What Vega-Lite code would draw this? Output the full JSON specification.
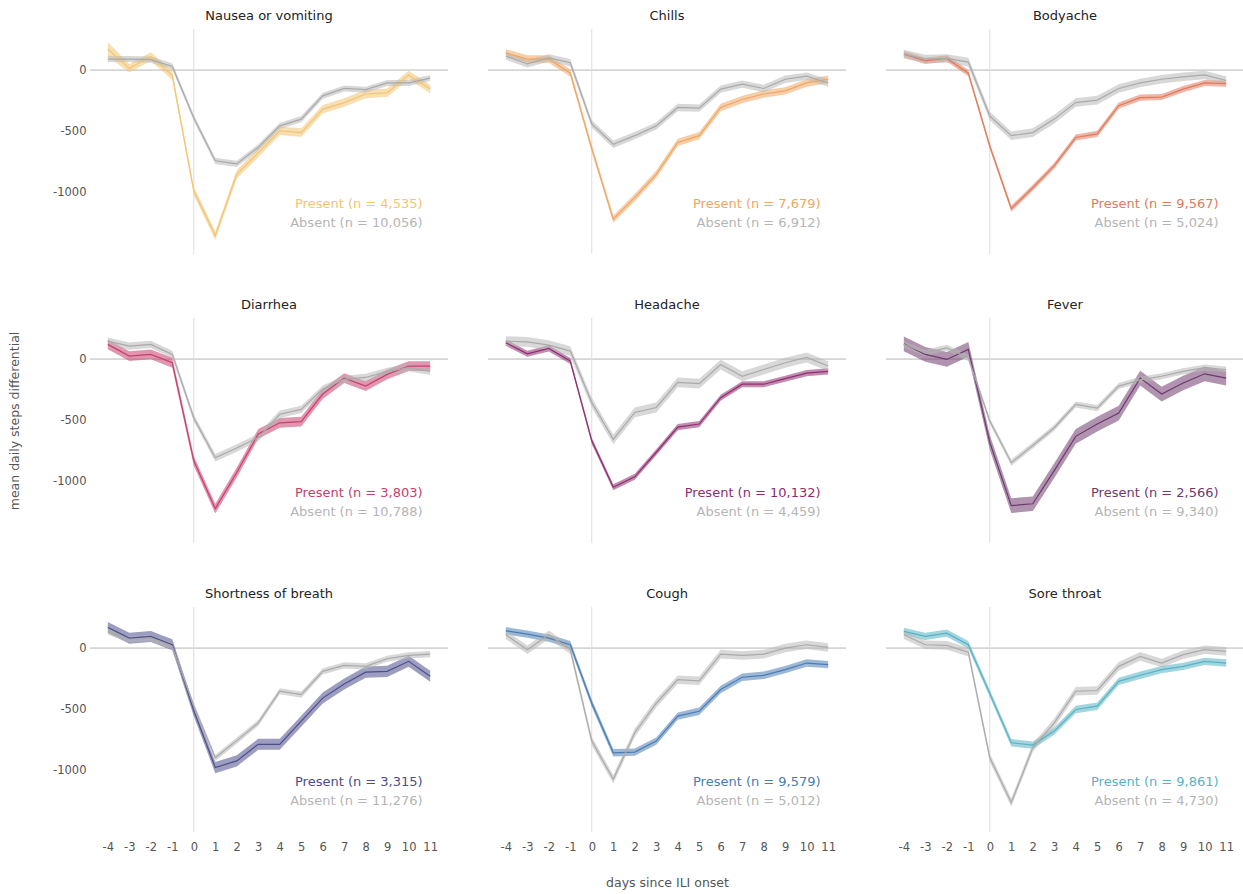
{
"$schema":"https://vega.github.io/schema/vega-lite/v6.json",
"background":"white",
"padding":{"left":8,"top":9,"right":5,"bottom":5},
"title":{"text":"days since ILI onset","orient":"bottom","anchor":"middle","fontSize":12.5,"fontWeight":"normal","color":"#555","offset":24,"dx":41},
"config":{"font":"DejaVu Sans","view":{"stroke":null},"axis":{"grid":false,"domain":false,"ticks":false,"labelColor":"#555","labelFontSize":11.5,"titleColor":"#555","titleFontSize":12.5,"titleFontWeight":"normal"}},
"data":{"values":[
{"s":"Nausea or vomiting","g":"P","t":"Present (n = 4,535)"},{"s":"Nausea or vomiting","g":"A","t":"Absent (n = 10,056)"},
{"s":"Chills","g":"P","t":"Present (n = 7,679)"},{"s":"Chills","g":"A","t":"Absent (n = 6,912)"},
{"s":"Bodyache","g":"P","t":"Present (n = 9,567)"},{"s":"Bodyache","g":"A","t":"Absent (n = 5,024)"},
{"s":"Diarrhea","g":"P","t":"Present (n = 3,803)"},{"s":"Diarrhea","g":"A","t":"Absent (n = 10,788)"},
{"s":"Headache","g":"P","t":"Present (n = 10,132)"},{"s":"Headache","g":"A","t":"Absent (n = 4,459)"},
{"s":"Fever","g":"P","t":"Present (n = 2,566)"},{"s":"Fever","g":"A","t":"Absent (n = 9,340)"},
{"s":"Shortness of breath","g":"P","t":"Present (n = 3,315)"},{"s":"Shortness of breath","g":"A","t":"Absent (n = 11,276)"},
{"s":"Cough","g":"P","t":"Present (n = 9,579)"},{"s":"Cough","g":"A","t":"Absent (n = 5,012)"},
{"s":"Sore throat","g":"P","t":"Present (n = 9,861)"},{"s":"Sore throat","g":"A","t":"Absent (n = 4,730)"},

{"s":"Nausea or vomiting","g":"P","d":-4,"m":170,"lo":110,"hi":230},
{"s":"Nausea or vomiting","g":"P","d":-3,"m":15,"lo":-20,"hi":50},
{"s":"Nausea or vomiting","g":"P","d":-2,"m":110,"lo":75,"hi":145},
{"s":"Nausea or vomiting","g":"P","d":-1,"m":-45,"lo":-80,"hi":-10},
{"s":"Nausea or vomiting","g":"P","d":0,"m":-985,"lo":-1020,"hi":-950},
{"s":"Nausea or vomiting","g":"P","d":1,"m":-1350,"lo":-1385,"hi":-1315},
{"s":"Nausea or vomiting","g":"P","d":2,"m":-850,"lo":-885,"hi":-815},
{"s":"Nausea or vomiting","g":"P","d":3,"m":-675,"lo":-710,"hi":-640},
{"s":"Nausea or vomiting","g":"P","d":4,"m":-495,"lo":-530,"hi":-460},
{"s":"Nausea or vomiting","g":"P","d":5,"m":-510,"lo":-545,"hi":-475},
{"s":"Nausea or vomiting","g":"P","d":6,"m":-320,"lo":-355,"hi":-285},
{"s":"Nausea or vomiting","g":"P","d":7,"m":-265,"lo":-300,"hi":-230},
{"s":"Nausea or vomiting","g":"P","d":8,"m":-195,"lo":-230,"hi":-160},
{"s":"Nausea or vomiting","g":"P","d":9,"m":-185,"lo":-220,"hi":-150},
{"s":"Nausea or vomiting","g":"P","d":10,"m":-40,"lo":-75,"hi":-5},
{"s":"Nausea or vomiting","g":"P","d":11,"m":-155,"lo":-190,"hi":-120},
{"s":"Nausea or vomiting","g":"A","d":-4,"m":90,"lo":65,"hi":115},
{"s":"Nausea or vomiting","g":"A","d":-3,"m":90,"lo":65,"hi":115},
{"s":"Nausea or vomiting","g":"A","d":-2,"m":85,"lo":60,"hi":110},
{"s":"Nausea or vomiting","g":"A","d":-1,"m":30,"lo":5,"hi":55},
{"s":"Nausea or vomiting","g":"A","d":0,"m":-390,"lo":-415,"hi":-365},
{"s":"Nausea or vomiting","g":"A","d":1,"m":-740,"lo":-765,"hi":-715},
{"s":"Nausea or vomiting","g":"A","d":2,"m":-765,"lo":-790,"hi":-740},
{"s":"Nausea or vomiting","g":"A","d":3,"m":-630,"lo":-655,"hi":-605},
{"s":"Nausea or vomiting","g":"A","d":4,"m":-455,"lo":-480,"hi":-430},
{"s":"Nausea or vomiting","g":"A","d":5,"m":-400,"lo":-425,"hi":-375},
{"s":"Nausea or vomiting","g":"A","d":6,"m":-210,"lo":-235,"hi":-185},
{"s":"Nausea or vomiting","g":"A","d":7,"m":-150,"lo":-175,"hi":-125},
{"s":"Nausea or vomiting","g":"A","d":8,"m":-160,"lo":-185,"hi":-135},
{"s":"Nausea or vomiting","g":"A","d":9,"m":-105,"lo":-130,"hi":-80},
{"s":"Nausea or vomiting","g":"A","d":10,"m":-105,"lo":-130,"hi":-80},
{"s":"Nausea or vomiting","g":"A","d":11,"m":-65,"lo":-90,"hi":-40},

{"s":"Chills","g":"P","d":-4,"m":140,"lo":110,"hi":170},
{"s":"Chills","g":"P","d":-3,"m":90,"lo":60,"hi":120},
{"s":"Chills","g":"P","d":-2,"m":90,"lo":60,"hi":120},
{"s":"Chills","g":"P","d":-1,"m":-25,"lo":-55,"hi":5},
{"s":"Chills","g":"P","d":0,"m":-640,"lo":-670,"hi":-610},
{"s":"Chills","g":"P","d":1,"m":-1215,"lo":-1245,"hi":-1185},
{"s":"Chills","g":"P","d":2,"m":-1040,"lo":-1070,"hi":-1010},
{"s":"Chills","g":"P","d":3,"m":-850,"lo":-880,"hi":-820},
{"s":"Chills","g":"P","d":4,"m":-590,"lo":-620,"hi":-560},
{"s":"Chills","g":"P","d":5,"m":-535,"lo":-565,"hi":-505},
{"s":"Chills","g":"P","d":6,"m":-305,"lo":-335,"hi":-275},
{"s":"Chills","g":"P","d":7,"m":-240,"lo":-270,"hi":-210},
{"s":"Chills","g":"P","d":8,"m":-195,"lo":-225,"hi":-165},
{"s":"Chills","g":"P","d":9,"m":-170,"lo":-200,"hi":-140},
{"s":"Chills","g":"P","d":10,"m":-105,"lo":-135,"hi":-75},
{"s":"Chills","g":"P","d":11,"m":-75,"lo":-105,"hi":-45},
{"s":"Chills","g":"A","d":-4,"m":115,"lo":85,"hi":145},
{"s":"Chills","g":"A","d":-3,"m":50,"lo":20,"hi":80},
{"s":"Chills","g":"A","d":-2,"m":100,"lo":70,"hi":130},
{"s":"Chills","g":"A","d":-1,"m":60,"lo":30,"hi":90},
{"s":"Chills","g":"A","d":0,"m":-440,"lo":-470,"hi":-410},
{"s":"Chills","g":"A","d":1,"m":-605,"lo":-635,"hi":-575},
{"s":"Chills","g":"A","d":2,"m":-535,"lo":-565,"hi":-505},
{"s":"Chills","g":"A","d":3,"m":-455,"lo":-485,"hi":-425},
{"s":"Chills","g":"A","d":4,"m":-305,"lo":-335,"hi":-275},
{"s":"Chills","g":"A","d":5,"m":-310,"lo":-340,"hi":-280},
{"s":"Chills","g":"A","d":6,"m":-155,"lo":-185,"hi":-125},
{"s":"Chills","g":"A","d":7,"m":-115,"lo":-145,"hi":-85},
{"s":"Chills","g":"A","d":8,"m":-150,"lo":-180,"hi":-120},
{"s":"Chills","g":"A","d":9,"m":-75,"lo":-105,"hi":-45},
{"s":"Chills","g":"A","d":10,"m":-50,"lo":-80,"hi":-20},
{"s":"Chills","g":"A","d":11,"m":-105,"lo":-135,"hi":-75},

{"s":"Bodyache","g":"P","d":-4,"m":130,"lo":105,"hi":155},
{"s":"Bodyache","g":"P","d":-3,"m":75,"lo":50,"hi":100},
{"s":"Bodyache","g":"P","d":-2,"m":95,"lo":70,"hi":120},
{"s":"Bodyache","g":"P","d":-1,"m":-25,"lo":-50,"hi":0},
{"s":"Bodyache","g":"P","d":0,"m":-620,"lo":-645,"hi":-595},
{"s":"Bodyache","g":"P","d":1,"m":-1130,"lo":-1155,"hi":-1105},
{"s":"Bodyache","g":"P","d":2,"m":-960,"lo":-985,"hi":-935},
{"s":"Bodyache","g":"P","d":3,"m":-780,"lo":-805,"hi":-755},
{"s":"Bodyache","g":"P","d":4,"m":-550,"lo":-575,"hi":-525},
{"s":"Bodyache","g":"P","d":5,"m":-520,"lo":-545,"hi":-495},
{"s":"Bodyache","g":"P","d":6,"m":-290,"lo":-315,"hi":-265},
{"s":"Bodyache","g":"P","d":7,"m":-225,"lo":-250,"hi":-200},
{"s":"Bodyache","g":"P","d":8,"m":-220,"lo":-245,"hi":-195},
{"s":"Bodyache","g":"P","d":9,"m":-155,"lo":-180,"hi":-130},
{"s":"Bodyache","g":"P","d":10,"m":-105,"lo":-130,"hi":-80},
{"s":"Bodyache","g":"P","d":11,"m":-110,"lo":-135,"hi":-85},
{"s":"Bodyache","g":"A","d":-4,"m":130,"lo":95,"hi":165},
{"s":"Bodyache","g":"A","d":-3,"m":90,"lo":55,"hi":125},
{"s":"Bodyache","g":"A","d":-2,"m":95,"lo":60,"hi":130},
{"s":"Bodyache","g":"A","d":-1,"m":65,"lo":30,"hi":100},
{"s":"Bodyache","g":"A","d":0,"m":-375,"lo":-410,"hi":-340},
{"s":"Bodyache","g":"A","d":1,"m":-535,"lo":-570,"hi":-500},
{"s":"Bodyache","g":"A","d":2,"m":-510,"lo":-545,"hi":-475},
{"s":"Bodyache","g":"A","d":3,"m":-400,"lo":-435,"hi":-365},
{"s":"Bodyache","g":"A","d":4,"m":-265,"lo":-300,"hi":-230},
{"s":"Bodyache","g":"A","d":5,"m":-245,"lo":-280,"hi":-210},
{"s":"Bodyache","g":"A","d":6,"m":-150,"lo":-185,"hi":-115},
{"s":"Bodyache","g":"A","d":7,"m":-105,"lo":-140,"hi":-70},
{"s":"Bodyache","g":"A","d":8,"m":-75,"lo":-110,"hi":-40},
{"s":"Bodyache","g":"A","d":9,"m":-55,"lo":-90,"hi":-20},
{"s":"Bodyache","g":"A","d":10,"m":-40,"lo":-75,"hi":-5},
{"s":"Bodyache","g":"A","d":11,"m":-85,"lo":-120,"hi":-50},

{"s":"Diarrhea","g":"P","d":-4,"m":120,"lo":80,"hi":160},
{"s":"Diarrhea","g":"P","d":-3,"m":24,"lo":-16,"hi":64},
{"s":"Diarrhea","g":"P","d":-2,"m":38,"lo":-2,"hi":78},
{"s":"Diarrhea","g":"P","d":-1,"m":-30,"lo":-70,"hi":10},
{"s":"Diarrhea","g":"P","d":0,"m":-830,"lo":-870,"hi":-790},
{"s":"Diarrhea","g":"P","d":1,"m":-1220,"lo":-1260,"hi":-1180},
{"s":"Diarrhea","g":"P","d":2,"m":-925,"lo":-965,"hi":-885},
{"s":"Diarrhea","g":"P","d":3,"m":-610,"lo":-650,"hi":-570},
{"s":"Diarrhea","g":"P","d":4,"m":-520,"lo":-560,"hi":-480},
{"s":"Diarrhea","g":"P","d":5,"m":-510,"lo":-550,"hi":-470},
{"s":"Diarrhea","g":"P","d":6,"m":-285,"lo":-325,"hi":-245},
{"s":"Diarrhea","g":"P","d":7,"m":-155,"lo":-195,"hi":-115},
{"s":"Diarrhea","g":"P","d":8,"m":-220,"lo":-260,"hi":-180},
{"s":"Diarrhea","g":"P","d":9,"m":-125,"lo":-165,"hi":-85},
{"s":"Diarrhea","g":"P","d":10,"m":-57,"lo":-97,"hi":-17},
{"s":"Diarrhea","g":"P","d":11,"m":-57,"lo":-97,"hi":-17},
{"s":"Diarrhea","g":"A","d":-4,"m":146,"lo":116,"hi":176},
{"s":"Diarrhea","g":"A","d":-3,"m":106,"lo":76,"hi":136},
{"s":"Diarrhea","g":"A","d":-2,"m":120,"lo":90,"hi":150},
{"s":"Diarrhea","g":"A","d":-1,"m":38,"lo":8,"hi":68},
{"s":"Diarrhea","g":"A","d":0,"m":-480,"lo":-510,"hi":-450},
{"s":"Diarrhea","g":"A","d":1,"m":-805,"lo":-835,"hi":-775},
{"s":"Diarrhea","g":"A","d":2,"m":-725,"lo":-755,"hi":-695},
{"s":"Diarrhea","g":"A","d":3,"m":-640,"lo":-670,"hi":-610},
{"s":"Diarrhea","g":"A","d":4,"m":-450,"lo":-480,"hi":-420},
{"s":"Diarrhea","g":"A","d":5,"m":-410,"lo":-440,"hi":-380},
{"s":"Diarrhea","g":"A","d":6,"m":-245,"lo":-275,"hi":-215},
{"s":"Diarrhea","g":"A","d":7,"m":-165,"lo":-195,"hi":-135},
{"s":"Diarrhea","g":"A","d":8,"m":-150,"lo":-180,"hi":-120},
{"s":"Diarrhea","g":"A","d":9,"m":-100,"lo":-130,"hi":-70},
{"s":"Diarrhea","g":"A","d":10,"m":-70,"lo":-100,"hi":-40},
{"s":"Diarrhea","g":"A","d":11,"m":-100,"lo":-130,"hi":-70},

{"s":"Headache","g":"P","d":-4,"m":133,"lo":108,"hi":158},
{"s":"Headache","g":"P","d":-3,"m":43,"lo":18,"hi":68},
{"s":"Headache","g":"P","d":-2,"m":87,"lo":62,"hi":112},
{"s":"Headache","g":"P","d":-1,"m":-16,"lo":-41,"hi":9},
{"s":"Headache","g":"P","d":0,"m":-667,"lo":-692,"hi":-642},
{"s":"Headache","g":"P","d":1,"m":-1045,"lo":-1070,"hi":-1020},
{"s":"Headache","g":"P","d":2,"m":-960,"lo":-985,"hi":-935},
{"s":"Headache","g":"P","d":3,"m":-760,"lo":-785,"hi":-735},
{"s":"Headache","g":"P","d":4,"m":-555,"lo":-580,"hi":-530},
{"s":"Headache","g":"P","d":5,"m":-530,"lo":-555,"hi":-505},
{"s":"Headache","g":"P","d":6,"m":-315,"lo":-340,"hi":-290},
{"s":"Headache","g":"P","d":7,"m":-205,"lo":-230,"hi":-180},
{"s":"Headache","g":"P","d":8,"m":-205,"lo":-230,"hi":-180},
{"s":"Headache","g":"P","d":9,"m":-160,"lo":-185,"hi":-135},
{"s":"Headache","g":"P","d":10,"m":-115,"lo":-140,"hi":-90},
{"s":"Headache","g":"P","d":11,"m":-100,"lo":-125,"hi":-75},
{"s":"Headache","g":"A","d":-4,"m":146,"lo":106,"hi":186},
{"s":"Headache","g":"A","d":-3,"m":140,"lo":100,"hi":180},
{"s":"Headache","g":"A","d":-2,"m":114,"lo":74,"hi":154},
{"s":"Headache","g":"A","d":-1,"m":65,"lo":25,"hi":105},
{"s":"Headache","g":"A","d":0,"m":-355,"lo":-395,"hi":-315},
{"s":"Headache","g":"A","d":1,"m":-655,"lo":-695,"hi":-615},
{"s":"Headache","g":"A","d":2,"m":-435,"lo":-475,"hi":-395},
{"s":"Headache","g":"A","d":3,"m":-395,"lo":-435,"hi":-355},
{"s":"Headache","g":"A","d":4,"m":-190,"lo":-230,"hi":-150},
{"s":"Headache","g":"A","d":5,"m":-200,"lo":-240,"hi":-160},
{"s":"Headache","g":"A","d":6,"m":-45,"lo":-85,"hi":-5},
{"s":"Headache","g":"A","d":7,"m":-140,"lo":-180,"hi":-100},
{"s":"Headache","g":"A","d":8,"m":-85,"lo":-125,"hi":-45},
{"s":"Headache","g":"A","d":9,"m":-30,"lo":-70,"hi":10},
{"s":"Headache","g":"A","d":10,"m":13,"lo":-27,"hi":53},
{"s":"Headache","g":"A","d":11,"m":-57,"lo":-97,"hi":-17},

{"s":"Fever","g":"P","d":-4,"m":124,"lo":64,"hi":184},
{"s":"Fever","g":"P","d":-3,"m":38,"lo":-22,"hi":98},
{"s":"Fever","g":"P","d":-2,"m":-3,"lo":-63,"hi":57},
{"s":"Fever","g":"P","d":-1,"m":79,"lo":19,"hi":139},
{"s":"Fever","g":"P","d":0,"m":-680,"lo":-740,"hi":-620},
{"s":"Fever","g":"P","d":1,"m":-1195,"lo":-1255,"hi":-1135},
{"s":"Fever","g":"P","d":2,"m":-1180,"lo":-1240,"hi":-1120},
{"s":"Fever","g":"P","d":3,"m":-910,"lo":-970,"hi":-850},
{"s":"Fever","g":"P","d":4,"m":-630,"lo":-690,"hi":-570},
{"s":"Fever","g":"P","d":5,"m":-530,"lo":-590,"hi":-470},
{"s":"Fever","g":"P","d":6,"m":-440,"lo":-500,"hi":-380},
{"s":"Fever","g":"P","d":7,"m":-155,"lo":-215,"hi":-95},
{"s":"Fever","g":"P","d":8,"m":-285,"lo":-345,"hi":-225},
{"s":"Fever","g":"P","d":9,"m":-195,"lo":-255,"hi":-135},
{"s":"Fever","g":"P","d":10,"m":-120,"lo":-180,"hi":-60},
{"s":"Fever","g":"P","d":11,"m":-155,"lo":-215,"hi":-95},
{"s":"Fever","g":"A","d":-4,"m":120,"lo":95,"hi":145},
{"s":"Fever","g":"A","d":-3,"m":50,"lo":25,"hi":75},
{"s":"Fever","g":"A","d":-2,"m":92,"lo":67,"hi":117},
{"s":"Fever","g":"A","d":-1,"m":10,"lo":-15,"hi":35},
{"s":"Fever","g":"A","d":0,"m":-505,"lo":-530,"hi":-480},
{"s":"Fever","g":"A","d":1,"m":-845,"lo":-870,"hi":-820},
{"s":"Fever","g":"A","d":2,"m":-705,"lo":-730,"hi":-680},
{"s":"Fever","g":"A","d":3,"m":-560,"lo":-585,"hi":-535},
{"s":"Fever","g":"A","d":4,"m":-370,"lo":-395,"hi":-345},
{"s":"Fever","g":"A","d":5,"m":-400,"lo":-425,"hi":-375},
{"s":"Fever","g":"A","d":6,"m":-220,"lo":-245,"hi":-195},
{"s":"Fever","g":"A","d":7,"m":-170,"lo":-195,"hi":-145},
{"s":"Fever","g":"A","d":8,"m":-140,"lo":-165,"hi":-115},
{"s":"Fever","g":"A","d":9,"m":-100,"lo":-125,"hi":-75},
{"s":"Fever","g":"A","d":10,"m":-70,"lo":-95,"hi":-45},
{"s":"Fever","g":"A","d":11,"m":-85,"lo":-110,"hi":-60},

{"s":"Shortness of breath","g":"P","d":-4,"m":168,"lo":123,"hi":213},
{"s":"Shortness of breath","g":"P","d":-3,"m":81,"lo":36,"hi":126},
{"s":"Shortness of breath","g":"P","d":-2,"m":95,"lo":50,"hi":140},
{"s":"Shortness of breath","g":"P","d":-1,"m":27,"lo":-18,"hi":72},
{"s":"Shortness of breath","g":"P","d":0,"m":-510,"lo":-555,"hi":-465},
{"s":"Shortness of breath","g":"P","d":1,"m":-975,"lo":-1020,"hi":-930},
{"s":"Shortness of breath","g":"P","d":2,"m":-920,"lo":-965,"hi":-875},
{"s":"Shortness of breath","g":"P","d":3,"m":-785,"lo":-830,"hi":-740},
{"s":"Shortness of breath","g":"P","d":4,"m":-785,"lo":-830,"hi":-740},
{"s":"Shortness of breath","g":"P","d":5,"m":-596,"lo":-641,"hi":-551},
{"s":"Shortness of breath","g":"P","d":6,"m":-408,"lo":-453,"hi":-363},
{"s":"Shortness of breath","g":"P","d":7,"m":-293,"lo":-338,"hi":-248},
{"s":"Shortness of breath","g":"P","d":8,"m":-196,"lo":-241,"hi":-151},
{"s":"Shortness of breath","g":"P","d":9,"m":-190,"lo":-235,"hi":-145},
{"s":"Shortness of breath","g":"P","d":10,"m":-108,"lo":-153,"hi":-63},
{"s":"Shortness of breath","g":"P","d":11,"m":-230,"lo":-275,"hi":-185},
{"s":"Shortness of breath","g":"A","d":-4,"m":136,"lo":111,"hi":161},
{"s":"Shortness of breath","g":"A","d":-3,"m":70,"lo":45,"hi":95},
{"s":"Shortness of breath","g":"A","d":-2,"m":81,"lo":56,"hi":106},
{"s":"Shortness of breath","g":"A","d":-1,"m":14,"lo":-11,"hi":39},
{"s":"Shortness of breath","g":"A","d":0,"m":-470,"lo":-495,"hi":-445},
{"s":"Shortness of breath","g":"A","d":1,"m":-895,"lo":-920,"hi":-870},
{"s":"Shortness of breath","g":"A","d":2,"m":-755,"lo":-780,"hi":-730},
{"s":"Shortness of breath","g":"A","d":3,"m":-610,"lo":-635,"hi":-585},
{"s":"Shortness of breath","g":"A","d":4,"m":-352,"lo":-377,"hi":-327},
{"s":"Shortness of breath","g":"A","d":5,"m":-380,"lo":-405,"hi":-355},
{"s":"Shortness of breath","g":"A","d":6,"m":-190,"lo":-215,"hi":-165},
{"s":"Shortness of breath","g":"A","d":7,"m":-141,"lo":-166,"hi":-116},
{"s":"Shortness of breath","g":"A","d":8,"m":-149,"lo":-174,"hi":-124},
{"s":"Shortness of breath","g":"A","d":9,"m":-87,"lo":-112,"hi":-62},
{"s":"Shortness of breath","g":"A","d":10,"m":-60,"lo":-85,"hi":-35},
{"s":"Shortness of breath","g":"A","d":11,"m":-49,"lo":-74,"hi":-24},

{"s":"Cough","g":"P","d":-4,"m":141,"lo":111,"hi":171},
{"s":"Cough","g":"P","d":-3,"m":114,"lo":84,"hi":144},
{"s":"Cough","g":"P","d":-2,"m":81,"lo":51,"hi":111},
{"s":"Cough","g":"P","d":-1,"m":27,"lo":-3,"hi":57},
{"s":"Cough","g":"P","d":0,"m":-450,"lo":-480,"hi":-420},
{"s":"Cough","g":"P","d":1,"m":-854,"lo":-884,"hi":-824},
{"s":"Cough","g":"P","d":2,"m":-848,"lo":-878,"hi":-818},
{"s":"Cough","g":"P","d":3,"m":-759,"lo":-789,"hi":-729},
{"s":"Cough","g":"P","d":4,"m":-555,"lo":-585,"hi":-525},
{"s":"Cough","g":"P","d":5,"m":-515,"lo":-545,"hi":-485},
{"s":"Cough","g":"P","d":6,"m":-338,"lo":-368,"hi":-308},
{"s":"Cough","g":"P","d":7,"m":-238,"lo":-268,"hi":-208},
{"s":"Cough","g":"P","d":8,"m":-222,"lo":-252,"hi":-192},
{"s":"Cough","g":"P","d":9,"m":-176,"lo":-206,"hi":-146},
{"s":"Cough","g":"P","d":10,"m":-122,"lo":-152,"hi":-92},
{"s":"Cough","g":"P","d":11,"m":-135,"lo":-165,"hi":-105},
{"s":"Cough","g":"A","d":-4,"m":109,"lo":74,"hi":144},
{"s":"Cough","g":"A","d":-3,"m":-13,"lo":-48,"hi":22},
{"s":"Cough","g":"A","d":-2,"m":109,"lo":74,"hi":144},
{"s":"Cough","g":"A","d":-1,"m":-13,"lo":-48,"hi":22},
{"s":"Cough","g":"A","d":0,"m":-759,"lo":-794,"hi":-724},
{"s":"Cough","g":"A","d":1,"m":-1070,"lo":-1105,"hi":-1035},
{"s":"Cough","g":"A","d":2,"m":-690,"lo":-725,"hi":-655},
{"s":"Cough","g":"A","d":3,"m":-450,"lo":-485,"hi":-415},
{"s":"Cough","g":"A","d":4,"m":-258,"lo":-293,"hi":-223},
{"s":"Cough","g":"A","d":5,"m":-267,"lo":-302,"hi":-232},
{"s":"Cough","g":"A","d":6,"m":-49,"lo":-84,"hi":-14},
{"s":"Cough","g":"A","d":7,"m":-60,"lo":-95,"hi":-25},
{"s":"Cough","g":"A","d":8,"m":-49,"lo":-84,"hi":-14},
{"s":"Cough","g":"A","d":9,"m":0,"lo":-35,"hi":35},
{"s":"Cough","g":"A","d":10,"m":27,"lo":-8,"hi":62},
{"s":"Cough","g":"A","d":11,"m":5,"lo":-30,"hi":40},

{"s":"Sore throat","g":"P","d":-4,"m":136,"lo":106,"hi":166},
{"s":"Sore throat","g":"P","d":-3,"m":95,"lo":65,"hi":125},
{"s":"Sore throat","g":"P","d":-2,"m":122,"lo":92,"hi":152},
{"s":"Sore throat","g":"P","d":-1,"m":27,"lo":-3,"hi":57},
{"s":"Sore throat","g":"P","d":0,"m":-370,"lo":-400,"hi":-340},
{"s":"Sore throat","g":"P","d":1,"m":-772,"lo":-802,"hi":-742},
{"s":"Sore throat","g":"P","d":2,"m":-791,"lo":-821,"hi":-761},
{"s":"Sore throat","g":"P","d":3,"m":-677,"lo":-707,"hi":-647},
{"s":"Sore throat","g":"P","d":4,"m":-501,"lo":-531,"hi":-471},
{"s":"Sore throat","g":"P","d":5,"m":-474,"lo":-504,"hi":-444},
{"s":"Sore throat","g":"P","d":6,"m":-271,"lo":-301,"hi":-241},
{"s":"Sore throat","g":"P","d":7,"m":-222,"lo":-252,"hi":-192},
{"s":"Sore throat","g":"P","d":8,"m":-176,"lo":-206,"hi":-146},
{"s":"Sore throat","g":"P","d":9,"m":-149,"lo":-179,"hi":-119},
{"s":"Sore throat","g":"P","d":10,"m":-108,"lo":-138,"hi":-78},
{"s":"Sore throat","g":"P","d":11,"m":-122,"lo":-152,"hi":-92},
{"s":"Sore throat","g":"A","d":-4,"m":109,"lo":74,"hi":144},
{"s":"Sore throat","g":"A","d":-3,"m":27,"lo":-8,"hi":62},
{"s":"Sore throat","g":"A","d":-2,"m":22,"lo":-13,"hi":57},
{"s":"Sore throat","g":"A","d":-1,"m":-33,"lo":-68,"hi":2},
{"s":"Sore throat","g":"A","d":0,"m":-894,"lo":-929,"hi":-859},
{"s":"Sore throat","g":"A","d":1,"m":-1260,"lo":-1295,"hi":-1225},
{"s":"Sore throat","g":"A","d":2,"m":-813,"lo":-848,"hi":-778},
{"s":"Sore throat","g":"A","d":3,"m":-610,"lo":-645,"hi":-575},
{"s":"Sore throat","g":"A","d":4,"m":-352,"lo":-387,"hi":-317},
{"s":"Sore throat","g":"A","d":5,"m":-346,"lo":-381,"hi":-311},
{"s":"Sore throat","g":"A","d":6,"m":-149,"lo":-184,"hi":-114},
{"s":"Sore throat","g":"A","d":7,"m":-68,"lo":-103,"hi":-33},
{"s":"Sore throat","g":"A","d":8,"m":-122,"lo":-157,"hi":-87},
{"s":"Sore throat","g":"A","d":9,"m":-54,"lo":-89,"hi":-19},
{"s":"Sore throat","g":"A","d":10,"m":-13,"lo":-48,"hi":22},
{"s":"Sore throat","g":"A","d":11,"m":-27,"lo":-62,"hi":8}
]},
"columns":3,
"spacing":{"column":38,"row":43},
"facet":{"field":"s","type":"nominal","sort":["Nausea or vomiting","Chills","Bodyache","Diarrhea","Headache","Fever","Shortness of breath","Cough","Sore throat"],
  "title":"mean daily steps differential",
  "header":{"titleOrient":"left","titleFontSize":12.5,"titleColor":"#555","titleFontWeight":"normal","titlePadding":31,"labelFontSize":13,"labelColor":"#222","labelPadding":6}},
"spec":{
  "width":358,"height":225,
  "encoding":{
    "x":{"type":"quantitative","scale":{"domain":[-4.83,11.83],"nice":false,"zero":false},"axis":{"values":[-4,-3,-2,-1,0,1,2,3,4,5,6,7,8,9,10,11],"title":null,"labelPadding":8,"labelExpr":"datum.value + ''"}},
    "y":{"type":"quantitative","scale":{"domain":[-1500,335],"nice":false},"axis":{"values":[0,-500,-1000],"title":null,"labelPadding":3,"labelExpr":"datum.value + ''"}}
  },
  "layer":[
    {"transform":[{"filter":"isValid(datum.t) && datum.g === 'P'"}],"mark":{"type":"rule","color":"#b5b5b5","strokeWidth":1},"encoding":{"y":{"datum":0}}},
    {"transform":[{"filter":"isValid(datum.t) && datum.g === 'P'"}],"mark":{"type":"rule","color":"#dddddd","strokeWidth":1},"encoding":{"x":{"datum":0}}},
    {"transform":[{"filter":"isValid(datum.m)"}],"mark":{"type":"area","opacity":0.55},
     "encoding":{"x":{"field":"d"},"y":{"field":"lo"},"y2":{"field":"hi"},"detail":{"field":"g"},
       "color":{"condition":{"test":"datum.g === 'A'","value":"#b8b8b8"},"field":"s","type":"nominal","legend":null,
         "scale":{"domain":["Nausea or vomiting","Chills","Bodyache","Diarrhea","Headache","Fever","Shortness of breath","Cough","Sore throat"],"range":["#f2c572","#eea662","#e07a5c","#c7406c","#8e2d6e","#6e3a6e","#4c4d8c","#4a7db4","#58b2c4"]}}}},
    {"transform":[{"filter":"isValid(datum.m)"}],"mark":{"type":"line","strokeWidth":1.2},
     "encoding":{"x":{"field":"d"},"y":{"field":"m"},"detail":{"field":"g"},
       "color":{"condition":{"test":"datum.g === 'A'","value":"#aaaaaa"},"field":"s","type":"nominal","legend":null}}},
    {"transform":[{"filter":"isValid(datum.t) && datum.g === 'P'"}],"mark":{"type":"text","align":"right","baseline":"middle","fontSize":13},
     "encoding":{"x":{"datum":10.65},"y":{"datum":-1090},"text":{"field":"t"},"color":{"field":"s","type":"nominal","legend":null}}},
    {"transform":[{"filter":"isValid(datum.t) && datum.g === 'A'"}],"mark":{"type":"text","align":"right","baseline":"middle","fontSize":13,"color":"#b5b5b5"},
     "encoding":{"x":{"datum":10.65},"y":{"datum":-1245},"text":{"field":"t"}}}
  ]
}
}
